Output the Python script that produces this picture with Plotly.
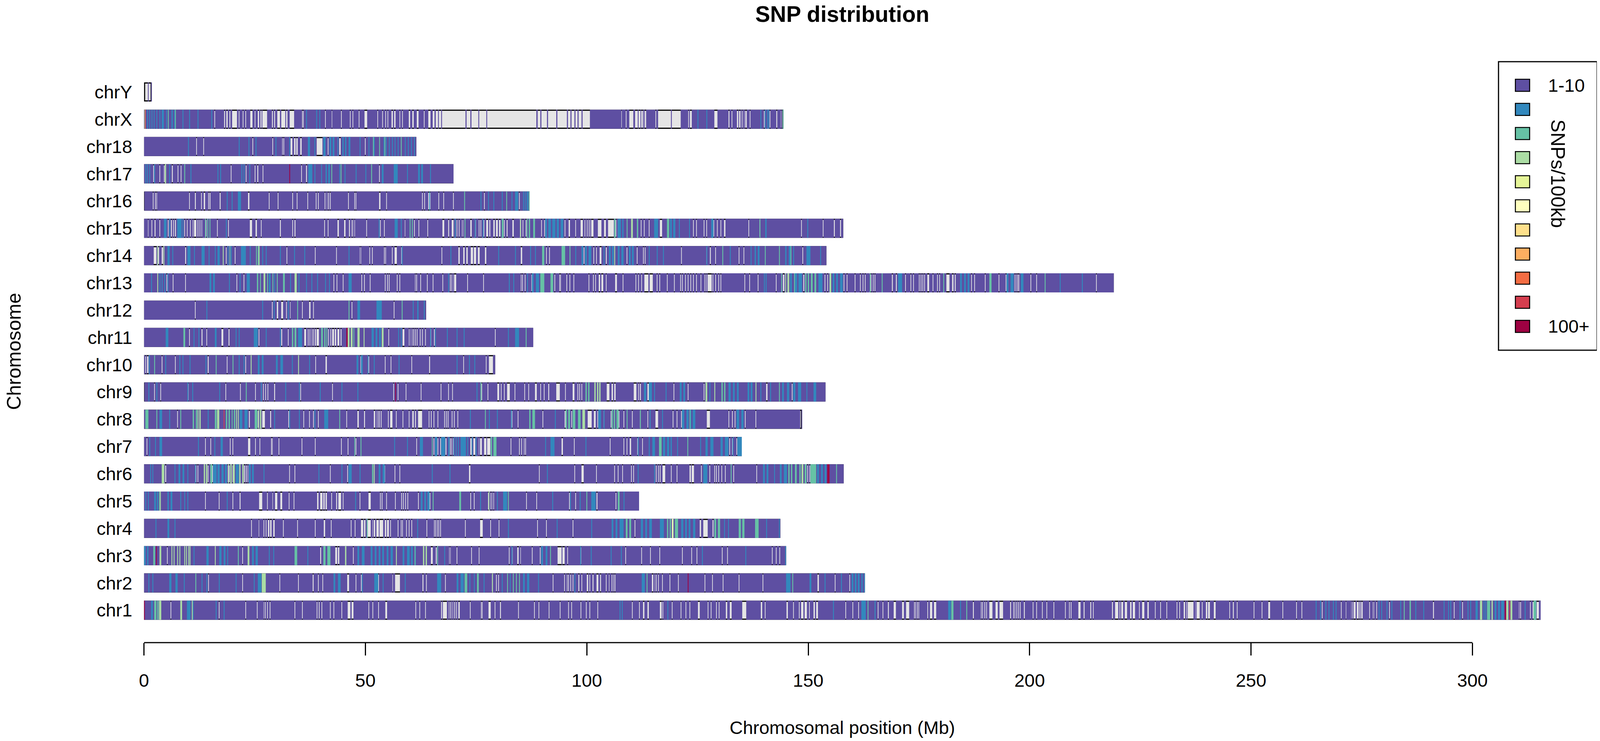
import plotly.graph_objects as go

# chromosomes bottom to top, lengths in Mb
chroms = ['chr1', 'chr2', 'chr3', 'chr4', 'chr5', 'chr6', 'chr7', 'chr8', 'chr9', 'chr10',
          'chr11', 'chr12', 'chr13', 'chr14', 'chr15', 'chr16', 'chr17', 'chr18', 'chrX', 'chrY']
lengths = [315.6, 162.8, 145.0, 143.7, 111.8, 158.0, 135.0, 148.6, 153.9, 79.3,
           87.9, 63.7, 219.0, 154.1, 157.9, 87.1, 69.9, 61.5, 144.4, 1.75]

# legend colours, 1-10 up to 100+
level_colors = ['#5E4FA2', '#3288BD', '#66C2A5', '#ABDDA4', '#E6F598', '#FFFFBF',
                '#FEE08B', '#FDAE61', '#F46D43', '#D53E4F', '#9E0142']
level_labels = ['1-10', '', '', '', '', '', '', '', '', '', '100+']

# a bare number in these lists is one narrow bin, a pair is (start, end) in Mb
chrY_gaps = [(0, 0.9), (1.05, 1.65)]

chrX_gaps = [15.9, (18.1, 18.3), (18.6, 18.9), (19.3, 19.5), (19.9, 21.0), 21.4, 22.3, 22.9, (24.0, 24.5), 25, (25.7, 26),
             (26.3, 26.6), (26.7, 27.8), (28.9, 29.1), (29.4, 29.6), (30.1, 30.7), (31, 31.9), (32.1, 32.4), (32.9, 33.9),
             35.7, 35.9, 40.9, (42.4, 42.5), 44.5, 46.5, 47.1, 48.5, (49.8, 50.4), 52.7, 53.8, 54.5, 55, (55.9, 56.2),
             (56.5, 56.8), 57.7, 58.3, (59.8, 60.1), (60.6, 60.9), (61.6, 62), 63.2, (64.2, 64.7), (65.2, 65.6), (65.9, 66.4),
             (66.6, 67.1), (67.3, 72.6), (72.85, 73.7), (73.95, 75.5), (75.7, 77.3), (77.5, 88.6), (88.9, 89.5), (89.75, 91.0),
             (91.25, 93.1), (93.35, 95.5), (95.75, 96.3), (96.55, 97.2), (97.45, 97.9), (98.15, 98.8), (99.05, 100.7),
             (107.8, 107.9), 108.8, (109.6, 110.5), (110.9, 111.5), (111.7, 112.2), (112.3, 112.7), (112.8, 113), (113.1, 113.4),
             115.5, (116.1, 119.0), (119.2, 121.2), 122.9, (123.3, 123.7), (128.8, 129.5), (132, 132.2), 132.7, (133.9, 134.2),
             (134.4, 134.7), 135, 135.5, (135.8, 136.1), 136.8, 140, 141.3, (142.8, 143), 143.8, 144.1]
chrX_blue = [0.7, 1.2, 1.7, 2.2, 2.8, 3.5, (4.0, 4.5), 5.0, (6.2, 6.5), 6.8, 8.7, 10.2, 12.1, 15.2, 36.6, 38.9, 39.6, 125, 127, 139.2, 140.2, 140.7, 141]
chrX_teal = [0.1, 5.4, (7.0, 7.2), 144.2]
chrX_hot = [(0.25, 0.35, 8)]

chr18_gaps = [11.8, 13.4, 24.5, 29.0, 31.2, 31.5, (33.1, 33.5), (33.9, 34.3), (34.4, 34.7), (35.3, 35.6), (39, 40.3), 41.5, (44.1, 44.4), 49.9]
chr18_blue = [9.95, 21.4, 23.6, 25.2, 29.7, 32.8, (37, 37.5), 38.5, (40.5, 41), (41.9, 42.3), (42.6, 43), 43.7, (44.8, 45.1), (45.4, 45.7), (46.2, 46.6), 48.7, 50.7,
              (51.9, 52.1), 54.1, 54.6, 55.3, 56, 56.6, 57.3, 58.9, 59.6, 60.3, 61]
chr18_teal = [51.7, 53.1, 54.3, 58]

chr17_gaps = [2.1, 3.5, 4.5, (6.3, 6.5), 7.6, 8.3, 19.6, 23, 25.0, (25.6, 25.8), 26.8, 35.5, (36.6, 36.8), 53.1]
chr17_blue = [0.3, 0.7, 1.2, 2.3, 5.7, 10.5, 16.6, 17.2, 22, 22.5, 23.8, (37.1, 38), 38.5, 40, (41, 41.3), (41.6, 42), 44.1, 45.3, 47.8, 50, (53.7, 54.1),
              (56.4, 57.3), 59.4, (61.9, 62.3), (62.6, 63), 64.6]
chr17_teal = [(9.1, 9.3), 42.3, (44.4, 44.6), 51.3]
chr17_lgreen = [(4.7, 5)]
chr17_hot = [(32.85, 32.95, 10)]

chr16_gaps = [(0, 0.1), 2, (2.5, 2.7), 2.8, 10.2, (11.5, 11.7), 12.9, (13.5, 13.8), 14.5, (14.8, 15), (17.1, 17.3), (23.5, 23.8), 28.2, 30.2,
              33.5, 34.5, 36.9, 38.8, 39.3, 40.8, 41.3, 41.6, 42, 46.1, 47.5, 47.8, (53.1, 53.4), 54.7, 62.8, 63.3, (64.2, 64.7), 66.5, 67.6,
              69.8, 76.8, 84.7]
chr16_blue = [18.7, 19.8, (21.2, 21.9), 64.4, 76, 77.7, 78.9, 80.8, 83, (83.8, 84.5), 85.6, 86, 86.4, 86.6]
chr16_teal = [72.3, 81.8, 86.9]

chr15_gaps = [(0.9, 1), 1.7, (2.4, 2.6), 3.5, 5.4, (6.1, 6.3), 6.6, (7, 7.2), 9.1, 9.7, 10.4, 11, (11.3, 11.8), 12.1, 12.5, 12.8, 13, (13.9, 14.1),
              16.5, 19, (23.9, 24.4), (25.2, 25.5), 26.4, (30.7, 30.9), 33.5, (34, 34.2), 40.7, 41.5, (43.7, 44), (45.2, 45.5), (46.3, 46.5),
              46.9, 47.1, 47.3, 47.5, 50.2, 53.3, 54.2, (58.9, 59), 61, 62, 64, (67.4, 67.8), (68.7, 68.9), (69.5, 69.9), 70.2, 70.6, 71.1,
              71.8, 72, (73.7, 74), 74.8, 75.6, 76, 76.7, (77.3, 77.7), (78, 78.2), (78.9, 79.2), (79.5, 79.9), (80.2, 80.5), 81.3, (81.9, 82.1),
              (83.2, 83.5), 85, 85.5, 86.2, 89.7, 90.4, 95, (95.9, 96.2), 97.4, (98.6, 99.1), 99.5, 100, 100.3, 100.6, (101, 101.5), (102.5, 103.3),
              (103.9, 104.3), (104.8, 106.1), 106.5, 107, 112.2, 112.9, 114, (116.5, 117), 124, 124.7, 126.4, 127, 128.6, 129.4, 130.2, (131, 131.3),
              136.5, 139, 148.4, 153.3, (155.8, 156), (157.2, 157.4)]
chr15_blue = [(4.5, 5.1), 5.7, (7.5, 8.5), 8.7, 18.5, 53, (56.6, 57.3), 58, 70.2, 74.7, 76.5, (90.6, 91), (91.3, 91.9), (92.2, 92.9), (93.2, 93.7), (94.1, 94.7),
              (107, 107.7), (108, 108.3), (115.2, 116.1), (118.8, 119.2), (119.5, 120), 120.8, 123.1, (128.1, 128.6), (140.3, 140.6), 149.8]
chr15_teal = [(13.8, 14), (14.3, 14.5), (14.8, 15), (60, 60.2), (60.5, 60.7), 72.4, (80.8, 81.2), (86.4, 86.6), (86.9, 87.2), (87.9, 88.3), (106.2, 106.5), 109, (111.3, 111.6), (118.1, 118.6), 139]
chr15_lgreen = [84.9, (110, 110.4)]

chr14_gaps = [(2.2, 2.8), (3.2, 3.4), (4, 4.3), (9.3, 9.5), 18.5, 20.5, 32.2, 38.6, 43.4, 48.7, 48.9, 50.9, 51.5, 54.2, 54.5, 56, (56.6, 57.1), 58.1, 67.2,
              (71, 71.3), (72.1, 72.4), (72.8, 73.1), (73.8, 74.3), (74.5, 75), (75.4, 75.8), (77, 77.3), (85.1, 85.4), 90.8, 91.5, 99.3, 101.5, 102.1,
              (102.9, 103.3), (104.3, 104.5), 109, 111.3, 112.7, 113.1, 121.3, 127, (127.8, 128), 129, 134.3, 135.4, 148.7]
chr14_blue = [(5.3, 5.8), 6.4, (9.8, 10.5), 11.3, (13, 13.7), 14.6, 16, (16.6, 17.1), 18.9, 19.6, (21.9, 23), 23.9, 26.7, 27.5, 30.7, 33.9, 36.2, 46.2,
              58.2, 69.2, 80, 83.8, 87.2, 88.3, 97.4, (98.8, 99.2), (99.6, 100), (100.4, 101), 103.8, (105, 105.4), (105.7, 106.1), (107, 107.4), (107.8, 108.3),
              (109.5, 109.9), (110.2, 110.6), 114, 115.8, 117.2, 127, 132.3, 137, (137.9, 138.2), (138.6, 139), (144.8, 145.1), (145.6, 146.2), 146.6, (149.6, 150.5), 152.7]
chr14_teal = [19.3, (25.3, 25.5), (25.7, 26), (89.9, 90.4), (94.3, 95.1), 96.1, 130.6, 140.2, 143.4, 146]
chr14_lgreen = [3, 4.4, 17.8, 25.9, 106.2]

chr13_gaps = [5.1, 6.5, 9.3, 20.9, 22.5, 42.8, 43.5, 44.9, 49.1, 49.7, 51, 54.4, 54.9, 55.3, 57.1, 57.7, 61.2, 61.5, 62.4, 63.9, 65.2, 67.4, 69.1, 69.4, 69.8,
              (70, 70.5), 73, 76.6, 85.1, 85.4, 86, 87.5, 92.7, 93.8, 94, 95.4, 96.1, 97, 100.4, 101.4, 101.9, (102.7, 103), (103.3, 103.7), 104.3, (106.4, 106.8),
              108.1, 111, 111.6, 112.3, (113, 113.9), (114.2, 114.9), 115.8, 116.4, 118.1, 119.7, 121.1, 121.5, 122.2, 122.8, 123.4, 124, 124.7, 125.7, 126.6, 127,
              (127.3, 128.2), 128.4, 129, 129.7, 130.2, 135.6, 136.7, 138.6, 142.7, (144.3, 144.6), (148.9, 149.1), 153.7, 154.3, 158, 158.7, 160.5, 161.7, 162.3,
              162.8, 164.1, 164.6, 165, (168.9, 169.1), (169.8, 170), 171.9, 173.1, 173.7, 175, 175.4, 175.8, 176.2, (176.9, 177.3), 178.1, 179.1, 179.6,
              (181.2, 181.9), (182.5, 182.8), (183.1, 183.3), 186.8, 187.5, 189.9, 193, 194.6, 196.6, 196.85, 197.1, 197.3, 197.5, 200.2, 201.5, 215]
chr13_blue = [1.6, 3.5, 4, 4.6, 5.3, (14.8, 15.2), (15.6, 16), 19.2, 21.6, (23.2, 23.9), (28.2, 28.6), 29.4, 33, 34.9, 36.6, 37.8, 39.1, 40.9, 41.8, (46.2, 46.9), 68.7, 82.4, 83.4,
              86.5, (87.6, 88), (88.5, 89.2), 140, 140.4, (145.9, 146.3), (146.9, 147.5), (147.8, 148.6), (152.3, 153.2), (155.5, 155.9), (156.3, 156.7), (157.2, 157.8), (170.3, 171.2),
              (184.3, 184.7), (185.2, 185.6), (186, 186.4), (194.8, 195.2), (195.7, 196.4), (198, 198.6), 206.8, 211.8]
chr13_teal = [(25.5, 25.8), 26.2, (27.8, 28), (29, 29.2), (30, 30.2), (31.4, 31.8), (89.5, 90.4), (91.8, 92.4), 143.9, 146.8, (149.3, 149.6), (149.9, 150.2), (150.6, 151), (151.4, 151.8),
              163.9, 166.6, 180.5, (190.9, 191.4), 203.4]
chr13_lgreen = [3, (27, 27.4), (34, 34.5), (144.8, 145), (145.3, 145.7), (154.8, 155.2)]

chr12_gaps = [11.5, 28.9, (30, 30.3), (31, 31.4), 32.1, (33, 33.1), 35.7, (37.3, 37.6), 38.2, 46.9, 56.4]
chr12_blue = [14.1, 26.7, 29.3, 32.5, (48.2, 48.8), (52.5, 53.7), 60.7, (61.7, 62), 63.2]
chr12_teal = [(34.6, 34.8), 46.2, 58.2]

chr11_gaps = [10.2, (13, 13.2), 14.1, (17.5, 17.9), (19.1, 19.3), 25.9, (31, 31.2), 32.5, (36.2, 36.6), 37, 37.4, 37.9, 38.2, (38.6, 38.9), (39, 39.5),
              41.6, 42.1, (42.5, 42.9), (43.1, 43.4), (43.7, 44.1), (44.4, 44.6), 55.2, (58.4, 58.8), 59.8, 60, 60.5, 60.8, 61.2, 61.6, 62.3, 62.8, 63.5, 64.7,
              65.5, 79.25]
chr11_blue = [(4.9, 5.5), 11.2, 12.3, (16, 16.4), 20.7, 21.4, (24.8, 25.7), 27.5, 30.7, (34.8, 35.7), (51.4, 51.9), (52.3, 52.7), (53.1, 53.5), 57.4, 58, 64.6, 65.7, 68.4, 70.6, 72.2, 82.2, (83.8, 84.7)]
chr11_teal = [(8.9, 9.3), (33.4, 33.7), (34, 34.4), (40, 40.4), (40.7, 41), (41.2, 41.4), 47.3, 86.2]
chr11_lgreen = [(46, 46.4), (46.7, 47.1), (48.2, 48.7), 49.6, (53.7, 54.1)]
chr11_hot = [(45.7, 46, 10)]

chr10_gaps = [0.3, (0.7, 1), 4, 7, (14.4, 14.6), 18.7, 22.9, 38.7, (41, 41.3), 48.9, 50.7, 54.4, 55.7, 60.4, (64.4, 64.6), 72.1, 77.2, (77.9, 78.8)]
chr10_blue = [1.1, 4.8, 8, 8.7, 10.3, 13.9, 21.4, 22.5, (25.7, 26.1), (26.6, 27), (29.8, 30.2), (30.8, 31.4), 33.4, 37.3, (48, 48.4), (49, 49.4), 50.5, 51.9, 57.5, 70.6, 73.4, 74.6]
chr10_teal = [2.3, 16.2, 20]
chr10_lgreen = [24.1, 34.8]

chr9_gaps = [(0, 0.1), 2.3, 3.7, 9.9, 18.4, 21.7, 25.1, (26.4, 26.6), 26.9, 27.4, 27.9, (29.4, 29.6), 35.3, 42.5, 56.3, 57.3, 59.1, 62.5, 67, 68.7, 69.6,
             76.2, 77.6, (79.8, 80.2), 80.6, 81.3, (82, 82.6), 83.7, 85.9, 86.8, (88.3, 88.7), 89.5, 90.3, (91.3, 91.5), (93.1, 93.9), 95.1, (96.8, 97.2), 97.9, 98.3, 98.8,
             (104.5, 105.1), (105.6, 105.9), (106.2, 106.5), (110.6, 111.2), 111.6, (112, 112.2), (113.7, 114), 119.6, 122.8, 126.4, 126.8, (140.5, 140.8), 146.3]
chr9_blue = [1, 2.8, 9.8, 10.9, 17, 26.4, 31.9, 35, 39.7, 44.6, 48.2, 75.1, (112.9, 113.4), (114, 114.7), 115.2, 117.8, (121, 121.4), (121.8, 122.2), 127.7, (132, 132.5), (133, 133.4), (133.9, 134.3),
             (136.3, 136.7), (137, 137.4), 139.2, 141.4, (144.1, 144.5), (145.2, 145.7), (146.6, 147.1), (147.7, 148.4), 149.6, (151.2, 151.8)]
chr9_teal = [23, 76, (99.7, 100), (100.3, 100.6), (130.4, 130.7), (131, 131.3), 143.4]
chr9_lgreen = [(101.7, 102), (102.3, 102.6), (102.8, 103.1), (126.8, 127.2), 128.8, 138.1]
chr9_hot = [(56.8, 56.9, 10)]

chr8_gaps = [7.5, (23.7, 23.9), (25.7, 25.9), (26.7, 27.3), (28.5, 28.7), 32.6, 36, 37.3, 38.2, 39.3, 45.7, (48.2, 48.5), (49.7, 49.9), (51.9, 52.2), 52.5, 52.8, 53.1, 53.5,
             55.1, (55.6, 56.1), 56.9, 58.4, 59.8, (60.6, 60.9), (61.2, 61.4), (61.9, 62.8), 64.3, 64.8, 65.4, 66.3, 67.8, 68.2, 68.6, 69.5, 70, 70.8, (82.9, 83.2), 84.4,
             90, (95, 95.2), 96.5, (100.2, 101.1), (101.6, 102), 102.4, 103.8, 105.4, 107.2, 108.3, 110.2, 112, 113.7, 114.2, (115.5, 116.1), 119.4, 120.3, 121.3, (127.1, 127.8),
             132, 132.8, 133.4, 135.7, 138.1, (148.2, 148.5)]
chr8_blue = [(3.5, 4.1), 5.7, 14.4, (21.6, 22.2), (22.7, 23.4), 29.4, 32.8, 35, 38.5, (40.7, 41.6), 73.6, 77.9, 79.7, 82.9, 92.8, (102.6, 103.2), 103.8, 114.2, 117, (121.5, 122), (122.5, 123), (123.3, 123.6),
             (123.9, 124.5), (133.8, 134.4), (134.9, 135.4)]
chr8_teal = [(0.3, 1), 2.8, 8.2, (11, 11.3), (11.7, 12), (16, 16.4), (18.5, 18.8), (19.1, 19.4), (19.8, 20), (20.3, 20.6), (25, 25.6), 44.1, 77, (87, 87.3), (87.7, 88.3), (95.2, 95.5), (95.8, 96.2),
             (96.8, 97.4), (98, 98.6), (105.6, 105.9), (106.1, 106.4), (106.7, 107.2), 109, 112, 123.2]
chr8_lgreen = [(12.1, 12.3), (12.5, 12.8), (16.5, 17), (20.8, 21), (21.2, 21.4), (25.8, 26), (26.2, 26.5), (99, 99.6)]
chr8_hot = [(18.05, 18.15, 9)]

chr7_gaps = [0.6, 13.8, 15, 19.4, 20, (23.5, 24), 25.1, 26.1, 28.7, 28.9, 30.4, 35.6, 38.6, 44.5, 46, 47.8, 61.5, 65.4, 66.3, 66.9, (68.1, 68.3), 69.1, 69.4, 69.8,
             (73.7, 74), (74.4, 74.8), 75.6, (75.9, 76.3), (76.8, 77.3), (77.5, 78.2), 82.8, 84.7, 85.2, 85.8, 86.1, (94.3, 94.6), 97.1, 105.2, 108.3, 109, (109.7, 110),
             111.4, 112.5, 115, 132.2, 132.8, 133.8]
chr7_blue = [1.2, 2.5, (3.5, 4.1), 12.2, 15.9, (17.3, 17.8), 56.5, 59.4, (62.3, 63), (65.7, 66.2), (67.1, 68), (68.7, 69), 69.9, 70.4, 70.9, (71.5, 72.7), 73, 74, 74.9,
             90.6, (91.8, 92.7), 99.7, 111.5, 114, (114.8, 115.4), (117.2, 117.7), (118.1, 118.6), (118.9, 119.2), 120.4, 125.6, (126.8, 127.3), (127.9, 128.6), (130.2, 130.7), (131.2, 132), 132.9, (134, 135)]
chr7_teal = [47.5, 48.9, 65, (78.3, 78.6), (78.9, 79.6), (116.3, 116.9), 122.7]

chr6_gaps = [(4.8, 5), (11.6, 11.8), 12.1, 14.4, 15, 15.4, 18.9, 19.2, 20, 20.3, (22.6, 22.8), 23, 23.2, 23.4, 32.8, 34, 42, 45.9, 54.3, 56.6, 57.7, (73.4, 73.7), 89.2, 97.2, (98.8, 99.3),
             102.1, 106.2, 107, 108, 110, 110.5, 115.3, 115.6, 116.1, 116.5, (117.1, 117.7), 119, 120.3, (123.2, 123.5), (123.7, 124.2), 125.8, 127.7, 128.8, 129.2, 129.7, 130.4, 131.2,
             133.1, 138.3, 149.8, 150.3]
chr6_blue = [1.4, 1.9, 6.9, (7.8, 8.2), (8.7, 9.1), 9.8, 11.5, (15.6, 16.4), (16.6, 17.1), (17.5, 18), (18.3, 18.7), (20.7, 21.4), (23.7, 24.1), (24.4, 24.8), 27, 39.4, 44.6, (46.2, 46.9), 48.7,
             (53, 53.4), (53.9, 54.4), 65, 69, 91, 111.5, 115.2, (126.3, 127.2), (139.8, 140.2), (140.6, 141), 142.3, (143.6, 144), (144.5, 145.2), (152, 152.4), (152.9, 153.3), (153.7, 154.1)]
chr6_teal = [(15, 15.4), (51.5, 51.8), 132.5, (145.5, 145.8), (146.1, 146.4), (147, 147.4), (148, 148.3), (149.2, 149.6), (150.5, 151.8), 156.3]
chr6_lgreen = [(4, 4.6), (13.5, 13.8), (14, 14.3), (19, 19.2), (19.5, 19.8), (20.1, 20.5), (21.5, 21.8), (22.2, 22.5), 51.9, (148.5, 148.9)]
chr6_hot = [(154.3, 154.8, 10)]

chr5_gaps = [13.8, 16.9, 20, (21.6, 21.8), (26, 26.7), 27.8, (29, 29.1), (29.6, 30.1), (30.8, 31.2), 32.7, 33.8, (39.1, 39.4), (39.8, 40.3), (40.5, 40.8), (41, 41.3), 42.3,
             (43.4, 43.6), (43.9, 44.5), 44.9, 48.7, (50.7, 51.2), 53.3, 53.7, 54.7, 56.7, 58.1, 58.5, 59, 59.5, 61.9, 64.5, 73.7, 74.5, 77.7, 78.3, 78.7, 78.9, 86.3, 88.6, 96, 97.4,
             (102.2, 102.4), 106.5, 107.2]
chr5_blue = [0.3, 0.9, (2.3, 2.7), (2.9, 3.2), (5.3, 5.6), (6, 6.4), 8.2, 9.1, 9.8, 18.7, 47.7, (62.5, 62.9), (63.3, 63.7), (64, 64.5), 75.9, 79.7, (81.1, 82), 92.2, 96.2, 98.4, (101, 102), 108.3]
chr5_teal = [3.4, 65.2, (71.2, 71.6), 82.2, 99.9, (107, 107.4)]
chr5_lgreen = [3.6, 77.8]

chr4_gaps = [24.2, (25.9, 26), 27, 27.5, (28, 28.3), (28.5, 28.8), (29.2, 29.5), 31.4, 34.6, 38.6, (40.6, 40.9), 42.2, 46.7, 47.6, (49, 49.5), (49.7, 50), (50.5, 51.2), 51.6,
             (51.9, 52.2), (52.5, 53.1), (53.2, 54), (54.4, 54.7), (54.9, 55.3), 55.6, 57.3, 58, 58.3, 59.2, 59.8, 60.4, 63.8, 65.5, 65.8, 66.2, 66.5, 66.9, 72.5, (75.9, 76.5), 78.2,
             80.1, 88.8, 90.8, 96.8, 110.8, (125.5, 125.8), (126.3, 127.3), (128.4, 128.6)]
chr4_blue = [2.6, (5.3, 5.7), 6.9, 61.7, 82.2, 93.2, 101, (105.6, 106), (106.5, 106.9), (107.4, 108.3), (112.2, 112.7), (113.2, 113.6), (114.1, 114.7), (116.5, 117.4), (121.3, 121.8), (122.2, 122.6), (123, 123.4),
             (124, 124.5), 131, 131.9, 140.5, 143.4]
chr4_teal = [(50.3, 50.5), (108.8, 109.2), (109.6, 110), (118.1, 118.4), (118.7, 119), (119.9, 120.6), (128.8, 129.2), (129.6, 130.1), (134.3, 134.8), (135.1, 135.6), (138, 138.8)]
chr4_lgreen = [(119.2, 119.6)]
chr4_hot = [(119.3, 119.45, 5)]

chr3_gaps = [5.2, 22.2, (39.8, 40), (43.2, 43.6), (43.8, 44.1), 47.2, (64.8, 65.2), (65.9, 66.1), 68.9, 69.1, 70.6, 73.9, 75.6, 82.4, 83.1, (84.3, 84.6), (85, 85.1), 87.6, 89.4,
             (93.4, 94.3), (94.5, 95), 95.6, 98.6, 108.7, 112.3, 114.3, 116.4, 121.5, 123.6, 124.8, 130.5, 131.7, 141.8, 142.7, 143.5]
chr3_blue = [(0, 0.4), (0.7, 1), 11.2, (14.1, 14.6), (17, 17.5), (18, 18.4), (18.8, 19), (24.4, 24.8), (25.2, 25.7), 28.2, 29.2, 36.9, (48.2, 48.6), (49.2, 49.8), (51.2, 51.6), (52.1, 52.5), (53, 53.4), (53.8, 54.2),
             (54.8, 55.2), (55.7, 56.2), (58.4, 58.8), (59.4, 60), (60.3, 60.7), (61.1, 61.4), 67.8, 83, (89.7, 90.1), (90.7, 91.1), 98.5, 100.9, 105.4, 107.7, 126, 135.8, 144.8]
chr3_teal = [(2.1, 2.5), 21.2, (34, 34.6), (40.5, 41), (41.4, 42.1), 61.1, 66.2, 91.7]
chr3_lgreen = [(3.5, 3.9), (6.2, 6.4), (6.7, 6.9), (7.5, 7.7), (8, 8.2), (9.1, 9.3), (9.5, 9.7), (10, 10.2), (10.3, 10.5), 16, (23.4, 23.8), (45.4, 45.7), 56.9, (63, 63.3), (63.6, 63.9)]
chr3_hot = [(2.75, 2.85, 10)]

chr2_gaps = [14.5, 22.2, 30.6, 34.8, (38.1, 38.3), 39.3, 40.3, (45.9, 46.3), 47.8, 49, 52.9, (56.1, 56.2), (56.7, 57.8), (62.9, 63.1), 63.7, 68, 78.6, 79.5, 80, 92.3, 94.9, 95.5, 95.8, 96.3, 96.8,
             (98.1, 98.3), 98.8, (100, 100.3), 100.6, (101.3, 101.5), (102.2, 102.6), (103, 103.2), 104.3, (105, 105.1), 105.6, 106, 106.3, (114.7, 115), 115.3, 115.6, 116.1, 117, 118.7, 120.6,
             126.6, 128.3, 130.7, 134.3, 139.7, (152.1, 152.4), 156, 159.3, 160, 160.7]
chr2_blue = [1, 1.9, (5.7, 6.2), (7.1, 7.6), 9, 13, 14.1, 16.9, 20.7, 24.8, (25.7, 26.5), (42.8, 43.2), (43.8, 44.4), 49.2, (52, 52.9), 53.9, 58.9, (66.2, 67.1), (70.6, 71), (71.5, 72.2), 73.5, 74.5, 76.7, 80.8, 82.6,
             (85.6, 86), (86.5, 87), 89, 97.2, (112.4, 113.1), (145, 146), (150.3, 150.7), 153.7, 157.4, (159.8, 160.2), (160.5, 160.9), (161.2, 161.6), (162, 162.3), (162.6, 162.8)]
chr2_teal = [11.6, (72.4, 73), (75.2, 75.6), 82, 83.3, 84, 84.7, 113.5, 146.4]
chr2_lgreen = [(26.6, 27.5), 78.6]
chr2_hot = [(122.85, 122.95, 10)]

chr1_gaps = [6, 16.9, 22.9, 25.5, 27, 27.3, 27.8, 28.4, 34, 35.7, 39, 39.5, 40.1, 42, 42.8, 44.6, (46, 46.6), (46.9, 47.3), 50.7, 51.6, 52.9, (54.5, 54.9), 61.3, 62.2, 63.5, (67.1, 67.3),
             (67.5, 68.4), 68.8, 69.1, 69.5, 69.8, 70.1, 70.5, (71, 71.3), 73.6, 76.1, 76.3, (77.8, 78.3), 79.2, (80.4, 80.6), 84.5, 88.1, 89.1, 91.4, 93.9, 95.8, 96.5, 98.6, 99.8, 100.6, 102.4,
             110.2, 111.8, (112.7, 113), (113.7, 114), (116.5, 116.9), 117.1, 119.2, 121.2, 122.3, 123.2, (125.1, 125.5), 127.3, 128, 129.2, 129.8, (131.4, 131.7), (132.3, 132.7), (135.1, 136),
             (139.3, 139.6), 140.2, (145.1, 145.4), 146.6, 147.9, (148.4, 148.9), (149.2, 149.7), 150.2, (151.2, 151.5), (151.8, 152.2), 158.4, 160, 161.3, 165, 165.7, 166.8, (168, 168.2),
             (169.3, 169.8), (171.2, 171.6), (172.1, 172.8), 173.9, 174.2, 174.6, 174.9, 176.9, (177.5, 178), (178.4, 178.9), (187.2, 187.4), 189, 189.3, 189.8, 190.2, (190.9, 191.6), (192.3, 192.8),
             (193.2, 194), (195.6, 195.8), 196.3, 196.6, 197, 197.4, 197.8, (198.7, 198.9), 200.7, 201.5, 202.8, 203.8, 205.4, 208, 208.9, 209.3, (211, 211.5), (212.2, 212.4), (213.7, 213.9), 214.3,
             (218.6, 218.8), (219.3, 220), 220.3, (220.7, 221.1), (221.5, 222), (222.7, 223), (223.3, 223.8), 224.7, (225.4, 225.9), (226.6, 226.9), 228.3, 229.5, 230.9, 233.2, 233.8, (234.8, 235.1),
             235.4, (235.7, 237), 237.4, (237.7, 238.4), 238.9, (239.8, 240.2), (240.3, 240.7), (241.6, 242), 245.1, (245.9, 246.1), 246.8, 250.6, 252.4, (253.9, 254.3), 257.1, 260.2, 261.4, 266,
             270.3, (271.4, 271.5), 272.6, 272.9, (273.2, 273.6), (273.9, 274.3), (274.5, 274.7), (274.9, 275.2), 276.7, 277.5, 277.7, 278.3, 281.2, (291.1, 291.3), 295.8, 297.7, 310.5, 310.8, 313,
             (313.6, 313.8), (314.5, 315)]
chr1_blue = [(1.6, 2), (9.7, 10.5), 11, 16.2, 18, 107.4, 107.9, 118.2, 155.6, (162, 163), 165, (181.6, 182.2), 184.3, 264.6, 265.6, 266.8, 267.5, 268.5, 269.1, 278.8, 279.4, 280.6, 281.7, 283.7, 287.1,
             288.9, 293.5, 294.5, 295, 297.1, 298.9, 299.5, (300.7, 301.2), 302.5, 302.9, (305, 305.4), (305.8, 306.2), (306.5, 307.1), 311.8]
chr1_teal = [(2.3, 2.8), (3, 3.3), 163.4, (182.3, 182.8), 185.7, 284.5, (285.8, 286.1), (303.3, 304), (313.8, 314.4)]
chr1_lgreen = [(3.4, 3.9), (8.2, 8.6), 10.8, (301.7, 302.2), (304.3, 304.6), (307.6, 308.1), (308.6, 309)]
chr1_hot = [(0, 0.2, 10), (307.3, 307.6, 10), (308.3, 308.5, 9)]

gap_lists = [chr1_gaps, chr2_gaps, chr3_gaps, chr4_gaps, chr5_gaps, chr6_gaps, chr7_gaps, chr8_gaps, chr9_gaps, chr10_gaps,
             chr11_gaps, chr12_gaps, chr13_gaps, chr14_gaps, chr15_gaps, chr16_gaps, chr17_gaps, chr18_gaps, chrX_gaps, chrY_gaps]
band_lists = {
    1: [chr1_blue, chr2_blue, chr3_blue, chr4_blue, chr5_blue, chr6_blue, chr7_blue, chr8_blue, chr9_blue, chr10_blue,
        chr11_blue, chr12_blue, chr13_blue, chr14_blue, chr15_blue, chr16_blue, chr17_blue, chr18_blue, chrX_blue, []],
    2: [chr1_teal, chr2_teal, chr3_teal, chr4_teal, chr5_teal, chr6_teal, chr7_teal, chr8_teal, chr9_teal, chr10_teal,
        chr11_teal, chr12_teal, chr13_teal, chr14_teal, chr15_teal, chr16_teal, chr17_teal, chr18_teal, chrX_teal, []],
    3: [chr1_lgreen, chr2_lgreen, chr3_lgreen, chr4_lgreen, chr5_lgreen, chr6_lgreen, [], chr8_lgreen, chr9_lgreen, chr10_lgreen,
        chr11_lgreen, [], chr13_lgreen, chr14_lgreen, chr15_lgreen, [], chr17_lgreen, [], [], []],
}
hot_lists = [chr1_hot, chr2_hot, chr3_hot, chr4_hot, [], chr6_hot, [], chr8_hot, chr9_hot, [],
             chr11_hot, [], [], [], [], [], chr17_hot, [], chrX_hot, []]


def spans(items, bin_size):
    out = []
    for it in items:
        if isinstance(it, tuple):
            out.append(it)
        else:
            out.append((it, it + bin_size))
    return sorted(out)


def band_trace(names, bases, widths, color):
    return go.Bar(orientation='h', y=names, x=widths, base=bases, width=0.7, cliponaxis=False,
                  marker=dict(color=color, line=dict(width=0)), hoverinfo='skip', showlegend=False)


# the page photographs about 4096 wide, the plot div is that minus the 8px body margin each side,
# so reference pixels are mapped to fractions of the div and the figure is left to autosize
def mx(x):
    return (x * 4096 / 4367 - 8) / 4080


def my(y):
    return 1 - (y - 8) / 1882


fig = go.Figure()

# grey chromosome body with black outline, shows through in the gaps
# pulled in a little at both ends so the outline does not stick out past the coloured bins
fig.add_trace(go.Bar(orientation='h', y=chroms, x=[v - 0.26 for v in lengths], base=0.13, width=0.66, cliponaxis=False,
                     marker=dict(color='#e5e5e5', line=dict(color='black', width=3)),
                     hoverinfo='skip', showlegend=False))

# lowest level fills everything that is not a gap
names, bases, widths = [], [], []
for name, length, gaps in zip(chroms, lengths, gap_lists):
    pos = 0
    for s, e in spans(gaps, 0.15):
        if s > pos:
            names.append(name)
            bases.append(pos)
            widths.append(s - pos)
        pos = max(pos, e)
    if pos < length:
        names.append(name)
        bases.append(pos)
        widths.append(length - pos)
fig.add_trace(band_trace(names, bases, widths, level_colors[0]))

for level, per_chrom in band_lists.items():
    names, bases, widths = [], [], []
    for name, items in zip(chroms, per_chrom):
        for s, e in spans(items, 0.2):
            names.append(name)
            bases.append(s)
            widths.append(e - s)
    fig.add_trace(band_trace(names, bases, widths, level_colors[level]))

for level in range(4, 11):
    names, bases, widths = [], [], []
    for name, items in zip(chroms, hot_lists):
        for s, e, lv in items:
            if lv == level:
                names.append(name)
                bases.append(s)
                widths.append(e - s)
    if names:
        fig.add_trace(band_trace(names, bases, widths, level_colors[level]))

shapes = [
    # axis line stops at the last tick like in base R
    dict(type='line', xref='x', yref='paper', x0=0, x1=300, y0=my(1646), y1=my(1646), line=dict(color='black', width=3)),
    # legend box
    dict(type='rect', xref='paper', yref='paper', x0=mx(4090), x1=mx(4359), y0=my(158), y1=my(897),
         line=dict(color='black', width=3), fillcolor='white', layer='below'),
]
annotations = []
for i, (color, label) in enumerate(zip(level_colors, level_labels)):
    yc = 218.5 + i * 61.75
    shapes.append(dict(type='rect', xref='paper', yref='paper', x0=mx(4136), x1=mx(4175), y0=my(yc + 15.5), y1=my(yc - 15.5),
                       line=dict(color='black', width=2.5), fillcolor=color))
    if label:
        annotations.append(dict(xref='paper', yref='paper', x=mx(4223), y=my(yc), text=label, showarrow=False,
                                xanchor='left', yanchor='middle', font=dict(size=47)))
annotations.append(dict(xref='paper', yref='paper', x=mx(4252), y=my(445), text='SNPs/100kb', showarrow=False,
                        textangle=90, xanchor='center', yanchor='middle', font=dict(size=50)))

fig.update_layout(
    margin=dict(l=0, r=0, t=0, b=0, pad=0),
    barmode='overlay',
    plot_bgcolor='white',
    paper_bgcolor='white',
    font=dict(family='Liberation Sans', size=47, color='black'),
    title=dict(text='<b>SNP distribution</b>', font=dict(size=57), xref='paper', x=mx(2299), xanchor='center', y=my(36), yanchor='middle'),
    shapes=shapes,
    annotations=annotations,
    xaxis=dict(domain=[mx(393), mx(4205)], anchor='y', range=[0, 315.4], tickvals=[0, 50, 100, 150, 200, 250, 300], ticks='outside',
               ticklen=32, tickwidth=2.5, tickcolor='black', showgrid=False, zeroline=False, showline=False, automargin=False,
               ticklabelstandoff=24, title=dict(text='Chromosomal position (Mb)', standoff=79, font=dict(size=47))),
    yaxis=dict(domain=[my(1646), my(154)], type='category', categoryorder='array', categoryarray=chroms, range=[-1.188, 20.166],
               showgrid=False, zeroline=False, showline=False, automargin=False, ticks='', ticklabelstandoff=29,
               title=dict(text='Chromosome', standoff=186, font=dict(size=50))),
)

fig.write_html('out.html')
